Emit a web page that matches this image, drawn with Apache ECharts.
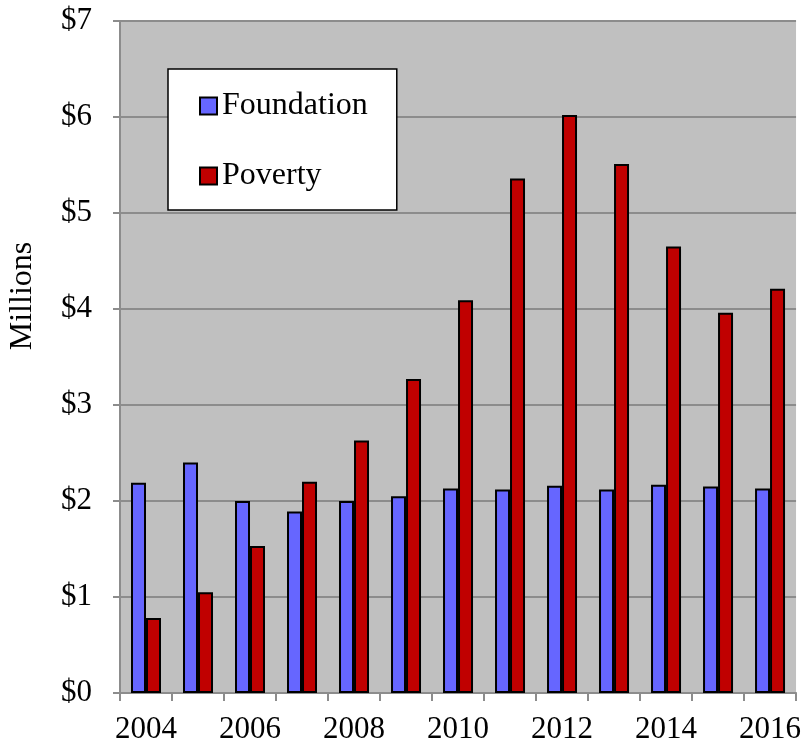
<!DOCTYPE html>
<html>
<head>
<meta charset="utf-8">
<script src="https://cdn.jsdelivr.net/npm/echarts@6/dist/echarts.min.js"></script>
<style>html,body{margin:0;padding:0;background:#fff;}#c{width:804px;height:747px;}</style>
</head>
<body>
<div id="c"></div>
<script>
var years = ['2004','2005','2006','2007','2008','2009','2010','2011','2012','2013','2014','2015','2016'];
var foundation = [2.19, 2.40, 2.00, 1.89, 2.00, 2.05, 2.13, 2.12, 2.16, 2.12, 2.17, 2.15, 2.13];
var poverty = [0.78, 1.05, 1.53, 2.20, 2.63, 3.27, 4.09, 5.36, 6.02, 5.51, 4.65, 3.96, 4.21];
var seriesNames = ['Foundation', 'Poverty'];
var yTicks = [0, 1, 2, 3, 4, 5, 6, 7];

var FONT = '"Liberation Serif", "Times New Roman", serif';
var chart = echarts.init(document.getElementById('c'));
chart.setOption({
  animation: false,
  backgroundColor: '#ffffff',
  textStyle: { fontFamily: FONT, color: '#000' },
  grid: { left: 120, right: 7, top: 21, bottom: 54, show: true, backgroundColor: '#c0c0c0', borderWidth: 0 },
  legend: {
    orient: 'vertical',
    left: 168, top: 69,
    backgroundColor: '#ffffff',
    borderColor: '#000000',
    borderWidth: 1.5,
    borderRadius: 0,
    padding: [21, 29, 18, 31],
    itemWidth: 17, itemHeight: 17,
    itemGap: 38,
    icon: 'rect',
    textStyle: { fontFamily: FONT, fontSize: 32, color: '#000', lineHeight: 32 },
    data: seriesNames
  },
  graphic: [{
    type: 'text',
    x: 23, y: 296,
    rotation: Math.PI / 2,
    style: { text: 'Millions', fontFamily: FONT, fontSize: 32, fill: '#000', textAlign: 'center', textVerticalAlign: 'middle' }
  }],
  xAxis: {
    type: 'category',
    data: years,
    boundaryGap: true,
    axisLine: { lineStyle: { color: '#8c8c8c', width: 2 } },
    axisTick: { show: true, interval: 0, length: 8, lineStyle: { color: '#8c8c8c', width: 2 } },
    axisLabel: { interval: 1, margin: 21, fontFamily: FONT, fontSize: 31, color: '#000' },
    splitLine: { show: false }
  },
  yAxis: {
    type: 'value',
    min: yTicks[0], max: yTicks[yTicks.length - 1], interval: 1,
    axisLine: { show: true, lineStyle: { color: '#8c8c8c', width: 2 } },
    axisTick: { show: true, length: 7, lineStyle: { color: '#8c8c8c', width: 2 } },
    axisLabel: { margin: 28, fontFamily: FONT, fontSize: 31, color: '#000', formatter: function (v) { return '$' + v; } },
    splitLine: { show: true, lineStyle: { color: '#8c8c8c', width: 2 } }
  },
  series: [
    { name: seriesNames[0], type: 'bar', data: foundation, barWidth: 15, barGap: '0%',
      itemStyle: { color: '#6666ff', borderColor: '#000', borderWidth: 2 } },
    { name: seriesNames[1], type: 'bar', data: poverty, barWidth: 15, barGap: '0%',
      itemStyle: { color: '#c00000', borderColor: '#000', borderWidth: 2 } }
  ]
});
</script>
</body>
</html>
